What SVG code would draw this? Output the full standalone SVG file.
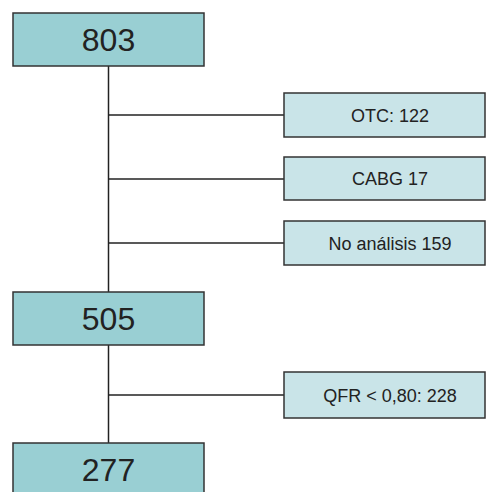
<svg xmlns="http://www.w3.org/2000/svg" width="486" height="492" viewBox="0 0 486 492">
<style>
.big rect{fill:#99cfd3;stroke:#333;stroke-width:1.5}
.small rect{fill:#c9e4e8;stroke:#333;stroke-width:1.5}
.big text{font-family:"Liberation Sans",Arial,sans-serif;font-size:32px;fill:#222;text-anchor:middle}
.small text{font-family:"Liberation Sans",Arial,sans-serif;font-size:18px;fill:#222;text-anchor:middle}
#connectors line{stroke:#222;stroke-width:1.5}
</style>
<rect width="486" height="492" fill="#fff"/>
<g id="connectors">
<line x1="108.5" y1="66" x2="108.5" y2="292"/>
<line x1="108.5" y1="115" x2="284" y2="115"/>
<line x1="108.5" y1="179" x2="284" y2="179"/>
<line x1="108.5" y1="243" x2="284" y2="243"/>
<line x1="108.5" y1="345" x2="108.5" y2="443"/>
<line x1="108.5" y1="395" x2="284" y2="395"/>
</g>
<g id="n803" class="big"><rect x="13" y="13" width="191" height="53"/><text x="108.5" y="51">803</text></g>
<g id="otc" class="small"><rect x="284" y="93" width="201" height="44"/><text x="390" y="121.5">OTC: 122</text></g>
<g id="cabg" class="small"><rect x="284" y="157" width="201" height="43"/><text x="390" y="185">CABG 17</text></g>
<g id="noanalisis" class="small"><rect x="284" y="221" width="201" height="44"/><text x="390" y="249.5">No análisis 159</text></g>
<g id="n505" class="big"><rect x="13" y="292" width="191" height="53"/><text x="108.5" y="330">505</text></g>
<g id="qfr" class="small"><rect x="284" y="372" width="201" height="46"/><text x="390" y="401.5">QFR &lt; 0,80: 228</text></g>
<g id="n277" class="big"><rect x="13" y="443" width="191" height="53"/><text x="108.5" y="481">277</text></g>
</svg>
